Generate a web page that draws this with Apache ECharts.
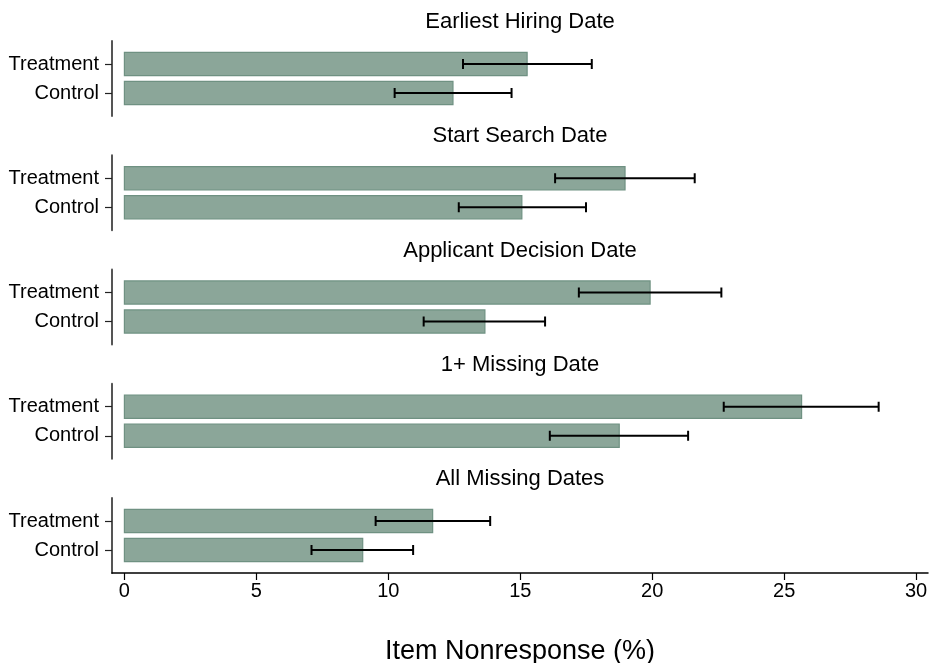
<!DOCTYPE html>
<html>
<head>
<meta charset="utf-8">
<script src="https://cdn.jsdelivr.net/npm/echarts@6/dist/echarts.min.js"></script>
<style>
html,body{margin:0;padding:0;background:#fff;}
#chart{width:930px;height:663px;}
</style>
</head>
<body>
<div id="chart"></div>
<script>
// ---- data ----
const panelTitles = ['Earliest Hiring Date', 'Start Search Date', 'Applicant Decision Date', '1+ Missing Date', 'All Missing Dates'];
const categories = ['Control', 'Treatment'];
const treatMean = [15.26, 18.97, 19.92, 25.66, 11.68];
const treatLow  = [12.83, 16.32, 17.22, 22.71, 9.52];
const treatHigh = [17.71, 21.61, 22.62, 28.58, 13.86];
const ctrlMean  = [12.45, 15.06, 13.66, 18.75, 9.03];
const ctrlLow   = [10.24, 12.67, 11.34, 16.12, 7.09];
const ctrlHigh  = [14.67, 17.49, 15.94, 21.36, 10.94];
const xTicks = [0, 5, 10, 15, 20, 25, 30];
const xTitle = 'Item Nonresponse (%)';

// ---- layout ----
const FONT = "'Liberation Sans', Arial, Helvetica, sans-serif";
const gridTop0 = 41, gridStep = 114.25, gridH = 75;
const grids = [], xAxes = [], yAxes = [], series = [], graphics = [];

function renderItem(params, api) {
  const y = api.value(0), m = api.value(1), lo = api.value(2), hi = api.value(3);
  const p0 = api.coord([0, y]);
  const p1 = api.coord([m, y]);
  const pl = api.coord([lo, y]);
  const ph = api.coord([hi, y]);
  const h = api.size([0, 0.8])[1];
  const cap = 5;
  return {
    type: 'group',
    children: [
      {type: 'rect', shape: {x: p0[0], y: p0[1] - h / 2, width: p1[0] - p0[0], height: h},
        style: {fill: '#8ba699', stroke: '#6f9182', lineWidth: 1.2}},
      {type: 'line', shape: {x1: pl[0], y1: pl[1], x2: ph[0], y2: ph[1]},
        style: {stroke: '#000', lineWidth: 2}},
      {type: 'line', shape: {x1: pl[0], y1: pl[1] - cap, x2: pl[0], y2: pl[1] + cap},
        style: {stroke: '#000', lineWidth: 2}},
      {type: 'line', shape: {x1: ph[0], y1: ph[1] - cap, x2: ph[0], y2: ph[1] + cap},
        style: {stroke: '#000', lineWidth: 2}}
    ]
  };
}

panelTitles.forEach((t, i) => {
  const top = gridTop0 + i * gridStep;
  const last = i === panelTitles.length - 1;
  grids.push({left: 112, right: 2, top: top, height: gridH, containLabel: false, outerBoundsMode: 'none'});
  xAxes.push({
    gridIndex: i, type: 'value', min: -0.47, max: 30.45, show: last,
    axisLine: {show: true, onZero: false, lineStyle: {color: '#000', width: 1.5}},
    axisTick: {show: true, customValues: xTicks, length: 7, lineStyle: {color: '#000', width: 1.2}},
    axisLabel: {customValues: xTicks, fontSize: 20, color: '#000', fontFamily: FONT, margin: 8},
    splitLine: {show: false},
    name: last ? xTitle : '', nameLocation: 'middle', nameGap: 65,
    nameTextStyle: {fontSize: 27, color: '#000', fontFamily: FONT}
  });
  yAxes.push({
    gridIndex: i, type: 'value', min: -0.7931, max: 1.7931,
    axisLine: {show: true, onZero: false, lineStyle: {color: '#555', width: 2}},
    axisTick: {show: true, customValues: [0, 1], length: 7, lineStyle: {color: '#222', width: 1.2}},
    axisLabel: {customValues: [0, 1], formatter: v => categories[Math.round(v)], fontSize: 20,
      color: '#000', fontFamily: FONT, margin: 13},
    splitLine: {show: false}
  });
  series.push({
    type: 'custom', xAxisIndex: i, yAxisIndex: i, renderItem: renderItem,
    encode: {x: [1, 2, 3], y: 0},
    data: [
      [0, ctrlMean[i], ctrlLow[i], ctrlHigh[i]],
      [1, treatMean[i], treatLow[i], treatHigh[i]]
    ],
    silent: true, animation: false
  });
  graphics.push({
    type: 'text', x: 520, y: top - 19,
    style: {text: t, x: 0, y: 0, fontSize: 22, fill: '#000', fontFamily: FONT,
      textAlign: 'center', textVerticalAlign: 'middle'}
  });
});

const chart = echarts.init(document.getElementById('chart'), null, {renderer: 'canvas'});
chart.setOption({
  backgroundColor: '#fff',
  animation: false,
  grid: grids, xAxis: xAxes, yAxis: yAxes, series: series,
  graphic: graphics
});
</script>
</body>
</html>
